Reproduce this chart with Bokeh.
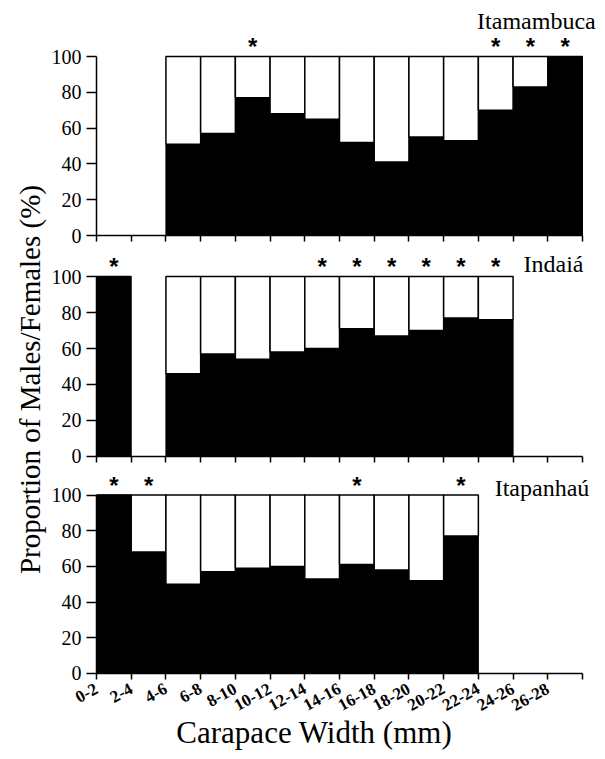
import math
from bokeh.plotting import figure
from bokeh.models import Range1d, FixedTicker, Label
from bokeh.layouts import row, column
from bokeh.embed import file_html
from bokeh.resources import INLINE
from bokeh.core.properties import value

# ---------------- data ----------------
categories = ["0-2", "2-4", "4-6", "6-8", "8-10", "10-12", "12-14",
              "14-16", "16-18", "18-20", "20-22", "22-24", "24-26", "26-28"]
y_ticks = [0, 20, 40, 60, 80, 100]

# proportion of males (%) per size class; None = no individuals
itamambuca_males = [None, None, 51, 57, 77, 68, 65, 52, 41, 55, 53, 70, 83, 100]
indaia_males = [100, None, 46, 57, 54, 58, 60, 71, 67, 70, 77, 76, None, None]
itapanhau_males = [100, 68, 50, 57, 59, 60, 53, 61, 58, 52, 77, None, None, None]

# size classes marked with an asterisk
itamambuca_sig = ["8-10", "22-24", "24-26", "26-28"]
indaia_sig = ["0-2", "12-14", "14-16", "16-18", "18-20", "20-22", "22-24"]
itapanhau_sig = ["0-2", "2-4", "14-16", "20-22"]

SERIF = "Times New Roman"

N = len(categories)
X_START = -1.354
X_END = N + 0.403


def make_panel(males, sig, name, name_x, name_y, name_align,
               height, y_start, y_end, bottom_panel):
    p = figure(width=547, height=height, x_range=Range1d(X_START, X_END),
               y_range=Range1d(y_start, y_end), toolbar_location=None,
               output_backend="svg", title=None, min_border=0)
    p.outline_line_color = None
    p.xgrid.visible = False
    p.ygrid.visible = False
    p.background_fill_color = "white"
    p.border_fill_color = "white"

    xs = [i + 0.5 for i, v in enumerate(males) if v is not None]
    tops = [v for v in males if v is not None]
    p.vbar(x=xs, width=1, bottom=0, top=tops, fill_color="black",
           line_color="black", line_width=1)
    p.vbar(x=xs, width=1, bottom=tops, top=100, fill_color="white",
           line_color="black", line_width=1.5)

    sx = [categories.index(c) + 0.5 for c in sig]
    p.text(x=sx, y=[105.5] * len(sx), text=["*"] * len(sx),
           text_font=value("Arial"), text_font_style="bold",
           text_font_size="24px", text_align="center",
           text_baseline="alphabetic", text_color="black")

    p.add_layout(Label(x=name_x, y=name_y, text=name, text_font=SERIF,
                       text_font_size="24px", text_align=name_align,
                       text_baseline="alphabetic", text_color="black"))

    ya = p.yaxis[0]
    ya.fixed_location = 0
    ya.ticker = FixedTicker(ticks=y_ticks)
    ya.bounds = (0, 100)
    ya.major_tick_out = 10
    ya.major_tick_in = 0
    ya.minor_tick_line_color = None
    ya.major_label_standoff = 5
    ya.major_label_text_font = SERIF
    ya.major_label_text_font_size = "20px"
    ya.major_label_text_color = "black"
    ya.axis_line_width = 1.5
    ya.major_tick_line_width = 1.5

    xa = p.xaxis[0]
    xa.fixed_location = 0
    xa.ticker = FixedTicker(ticks=list(range(N + 1)))
    xa.bounds = (0, N)
    xa.major_tick_out = 6
    xa.major_tick_in = 0
    xa.minor_tick_line_color = None
    xa.axis_line_width = 1.5
    xa.major_tick_line_width = 1.5
    if bottom_panel:
        overrides = {i: categories[i] for i in range(N)}
        overrides[N] = ""
        xa.major_label_overrides = overrides
        xa.major_label_orientation = 0.5
        xa.major_label_standoff = 8
        xa.major_label_text_font = SERIF
        xa.major_label_text_font_style = "bold"
        xa.major_label_text_font_size = "17px"
        xa.major_label_text_color = "black"
        p.add_layout(Label(x=2.3, y=-33.2, text="Carapace Width (mm)",
                           text_font=SERIF, text_font_size="31px",
                           text_align="left", text_baseline="alphabetic",
                           text_color="black"))
    else:
        xa.major_label_overrides = {i: "" for i in range(N + 1)}
    return p


p1 = make_panel(itamambuca_males, itamambuca_sig, "Itamambuca",
                14.38, 120.0, "right", 248, -7.26, 131.3, False)
p2 = make_panel(indaia_males, indaia_sig, "Indaiá",
                12.3, 107.0, "left", 220, -6.67, 115.56, False)
p3 = make_panel(itapanhau_males, itapanhau_sig, "Itapanhaú",
                11.47, 104.2, "left", 286, -45.4, 114.85, True)

lf = figure(width=49, height=754, x_range=Range1d(0, 49),
            y_range=Range1d(0, 754), x_axis_type=None, y_axis_type=None,
            toolbar_location=None, output_backend="svg", title=None,
            min_border=0)
lf.outline_line_color = None
lf.xgrid.visible = False
lf.ygrid.visible = False
lf.add_layout(Label(x=29, y=375, text="Proportion of Males/Females (%)",
                    angle=math.pi / 2, text_align="center",
                    text_baseline="middle", text_font=SERIF,
                    text_font_size="29px", text_color="black"))

layout = row(lf, column(p1, p2, p3))

with open("out.html", "w") as f:
    f.write(file_html(layout, INLINE))
